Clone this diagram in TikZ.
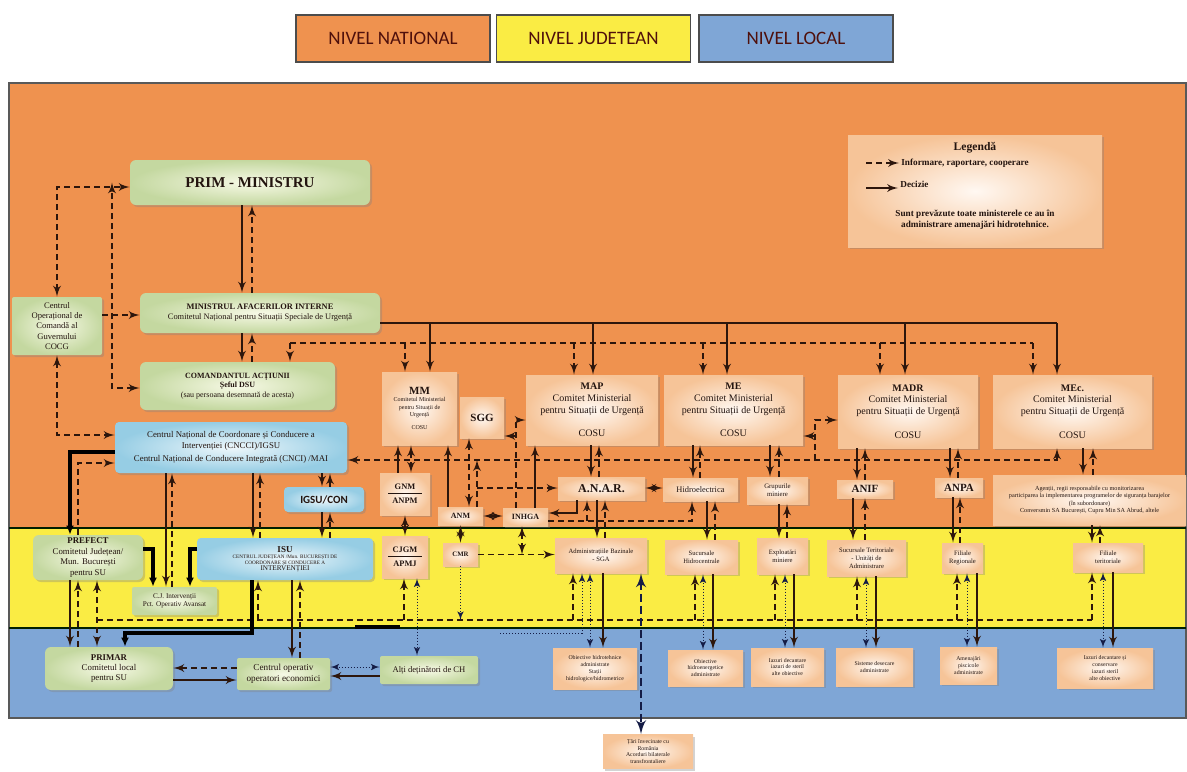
\documentclass[tikz,border=0pt]{standalone}
\usepackage{fontspec}
\setmainfont{Liberation Serif}
\newfontfamily\lgfont{Carlito}
\usetikzlibrary{shapes,arrows,arrows.meta,positioning,shadows}
\newcommand\fsz[1]{\fontsize{#1}{\fpeval{1.18*#1}}\selectfont}
\definecolor{orgband}{RGB}{239,146,79}
\definecolor{yelband}{RGB}{250,236,68}
\definecolor{bluband}{RGB}{127,166,214}
\definecolor{lnc}{RGB}{45,22,12}
\definecolor{navy}{RGB}{20,28,70}
\definecolor{txt}{RGB}{35,20,15}
\definecolor{grnout}{RGB}{196,216,160}
\definecolor{grnin}{RGB}{247,249,230}
\definecolor{pchout}{RGB}{246,196,152}
\definecolor{pchin}{RGB}{255,248,242}
\definecolor{bluout}{RGB}{150,205,228}
\definecolor{bluin}{RGB}{238,247,251}
\begin{document}
\begin{tikzpicture}[x=0.5pt, y=-0.5pt, >=latex']

            % Define block styles
            \tikzstyle{lvl} = [draw=black!70, line width=.8pt, minimum width=97pt, minimum height=23.5pt, font=\lgfont\fsz{9.5}, text=txt!80!red]
            \tikzstyle{grn} = [rounded corners=3pt, inner color=grnin, outer color=grnout, drop shadow={opacity=.35, shadow xshift=1pt, shadow yshift=-1pt}, align=center, inner sep=1pt, text=txt]
            \tikzstyle{pch} = [inner color=pchin, outer color=pchout, drop shadow={opacity=.35, shadow xshift=1pt, shadow yshift=-1pt}, align=center, inner sep=1pt, text=txt]
            \tikzstyle{blu} = [rounded corners=2pt, inner color=bluin, outer color=bluout, drop shadow={opacity=.35, shadow xshift=1pt, shadow yshift=-1pt}, align=center, inner sep=1pt, text=txt]
            \tikzstyle{dec} = [draw=lnc, line width=.9pt, ->]
            \tikzstyle{inf} = [draw=lnc, line width=.9pt, dash pattern=on 3pt off 2pt, ->]
            \tikzstyle{bus} = [draw=lnc, line width=.9pt, dash pattern=on 3pt off 2pt]
            \tikzstyle{dotl} = [draw=navy, line width=.5pt, densely dotted, ->]
            \tikzstyle{thk} = [draw=black, line width=2pt, -{Latex[length=4.5pt,width=4pt]}]

            \useasboundingbox (0,0) rectangle (1187,771);

            % Bands
            \fill[orgband] (9,83) rectangle (1186,528);
            \fill[yelband] (9,528) rectangle (1186,628);
            \fill[bluband] (9,628) rectangle (1186,718);
            \draw[black!65, line width=1pt] (9,83) rectangle (1186,718);
            \draw[black!60!green!30!black, line width=1pt] (9,528) -- (1186,528) (9,628) -- (1186,628);
            \draw[black, line width=2pt] (355,627) -- (400,627);

            % Level boxes
            \node [lvl, fill=orgband] (nnat) at (393,38.5) {NIVEL NATIONAL};
            \node [lvl, fill=yelband] (njud) at (593.5,38.5) {NIVEL JUDETEAN};
            \node [lvl, fill=bluband] (nloc) at (796,38.5) {NIVEL LOCAL};

            % Nodes - national
            \node [grn, minimum width=120pt, minimum height=22.5pt, font=\bfseries\fsz{7.5}] (pm) at (250,182.5) {PRIM - MINISTRU};
            \node [grn, minimum width=120pt, minimum height=20pt, font=\fsz{4.2}] (mai) at (260,313) {\textbf{MINISTRUL AFACERILOR INTERNE}\\Comitetul Național pentru Situații Speciale de Urgență};
            \node [grn, minimum width=97.5pt, minimum height=24pt, font=\fsz{4}] (cmd) at (237.5,386) {\textbf{COMANDANTUL ACȚIUNII}\\\textbf{Șeful DSU}\\(sau persoana desemnată de acesta)};
            \node [grn, rounded corners=1pt, minimum width=45pt, minimum height=29pt, font=\fsz{4.3}] (cocg) at (57,326) {Centrul\\Operațional de\\Comandă al\\Guvernului\\COCG};
            \node [blu, minimum width=116pt, minimum height=25.5pt, font=\fsz{4.4}] (cncci) at (231,447.5) {Centrul Național de Coordonare și Conducere a\\Intervenției (CNCCI)/IGSU\\[1.5pt]Centrul Național de Conducere Integrată (CNCI) /MAI};
            \node [blu, minimum width=40pt, minimum height=12.5pt, font=\lgfont\bfseries\fsz{5.5}] (igsu) at (324,499.5) {IGSU/CON};

            % Legend
            \node [pch, minimum width=127pt, minimum height=56pt] (leg) at (975,191) {};
            \node [font=\bfseries\fsz{5.8}, text=txt] (legt) at (975,148) {Legendă};
            \node [font=\bfseries\fsz{4.6}, anchor=west, inner sep=1pt, text=txt] (leg1) at (899,163) {Informare, raportare, cooperare};
            \node [font=\bfseries\fsz{4.6}, anchor=west, inner sep=1pt, text=txt] (leg2) at (898,184) {Decizie};
            \node [font=\bfseries\fsz{4.6}, align=center, text=txt] (legn) at (975,220) {Sunt prevăzute toate ministerele ce au în\\administrare amenajări hidrotehnice.};
            \coordinate (l1) at (866,163);
            \coordinate (l2) at (866,188);

            % Ministries
            \node [pch, minimum width=37.5pt, minimum height=36.5pt, font=\fsz{3}] (mm) at (419.5,408.5) {{\bfseries\fsz{5.5}MM}\\Comitetul Ministerial\\pentru Situații de\\Urgență\\[3pt]COSU};
            \node [pch, minimum width=22pt, minimum height=20.5pt, font=\bfseries\fsz{5.5}] (sgg) at (482,417.5) {SGG};
            \node [pch, minimum width=66pt, minimum height=35pt, font=\fsz{5}] (map) at (592,410) {\textbf{MAP}\\Comitet Ministerial\\pentru Situații de Urgență\\[6pt]COSU};
            \node [pch, minimum width=69.5pt, minimum height=35pt, font=\fsz{5}] (me) at (733.5,410) {\textbf{ME}\\Comitet Ministerial\\pentru Situații de Urgență\\[6pt]COSU};
            \node [pch, minimum width=70pt, minimum height=36.5pt, font=\fsz{5}] (madr) at (908,411.5) {\textbf{MADR}\\Comitet Ministerial\\pentru Situații de Urgență\\[6pt]COSU};
            \node [pch, minimum width=79.5pt, minimum height=36.5pt, font=\fsz{5}] (mec) at (1072.5,411.5) {\textbf{MEc.}\\Comitet Ministerial\\pentru Situații de Urgență\\[6pt]COSU};

            % Agencies
            \node [pch, minimum width=25pt, minimum height=21pt, font=\bfseries\fsz{4.2}] (gnm) at (405,494) {GNM\\[-2pt]\rule[1pt]{17pt}{.4pt}\\[-1pt]ANPM};
            \node [pch, minimum width=22.5pt, minimum height=9pt, font=\bfseries\fsz{4}] (anm) at (460.5,516) {ANM};
            \node [pch, minimum width=22.5pt, minimum height=9pt, font=\bfseries\fsz{4}] (inhga) at (525.5,517) {INHGA};
            \node [pch, minimum width=43.5pt, minimum height=11.5pt, font=\bfseries\fsz{6}] (anar) at (601.5,488.5) {A.N.A.R.};
            \node [pch, minimum width=37.5pt, minimum height=11.5pt, font=\fsz{4.2}] (hidro) at (700.5,489.5) {Hidroelectrica};
            \node [pch, minimum width=30.5pt, minimum height=13.5pt, font=\fsz{3.4}] (grup) at (777.5,490.5) {Grupurile\\miniere};
            \node [pch, minimum width=28pt, minimum height=9pt, font=\bfseries\fsz{5.5}] (anif) at (865,489) {ANIF};
            \node [pch, minimum width=24pt, minimum height=9.5pt, font=\bfseries\fsz{5.5}] (anpa) at (959,487.5) {ANPA};
            \node [pch, minimum width=96.5pt, minimum height=25pt, font=\fsz{3.1}] (agen) at (1089.5,500) {Agenții, regii responsabile cu monitorizarea\\participarea la implementarea programelor de siguranța barajelor\\(în subordonare)\\Conversmin SA București, Cupru Min SA Abrud, altele};

            % Nodes - judetean
            \node [grn, minimum width=55pt, minimum height=22.5pt, font=\fsz{4.4}] (pref) at (88,557.5) {\textbf{PREFECT}\\Comitetul Județean/\\Mun. București\\pentru SU};
            \node [blu, minimum width=88pt, minimum height=21pt, font=\fsz{2.6}] (isu) at (285,559) {{\bfseries\fsz{4.5}ISU}\\CENTRUL JUDEȚEAN /Mun. BUCUREȘTI DE\\COORDONARE ȘI CONDUCERE A\\{\fsz{3.6}INTERVENȚIEI}};
            \node [grn, rounded corners=1pt, minimum width=42.5pt, minimum height=14pt, font=\fsz{3.6}] (cji) at (174.5,601) {C.J. Intervenții\\Pct. Operativ Avansat};
            \node [pch, minimum width=23pt, minimum height=21pt, font=\bfseries\fsz{4.2}] (cjgm) at (405,557) {CJGM\\[-2pt]\rule[1pt]{17pt}{.4pt}\\[-1pt]APMJ};
            \node [pch, minimum width=17.5pt, minimum height=11.5pt, font=\bfseries\fsz{3.4}] (cmr) at (460.5,554.5) {CMR};
            \node [pch, minimum width=46pt, minimum height=17.5pt, font=\fsz{3.3}] (abas) at (601,555.5) {Administrațiile Bazinale\\- SGA};
            \node [pch, minimum width=36.5pt, minimum height=17pt, font=\fsz{3.3}] (shid) at (701.5,557) {Sucursale\\Hidrocentrale};
            \node [pch, minimum width=25.5pt, minimum height=18pt, font=\fsz{3.3}] (expl) at (782.5,556) {Exploatări\\miniere};
            \node [pch, minimum width=39.5pt, minimum height=18pt, font=\fsz{3.3}] (ster) at (866.5,558) {Sucursale Teritoriale\\- Unități de\\Administrare};
            \node [pch, minimum width=20.5pt, minimum height=15pt, font=\fsz{3.3}] (freg) at (962.5,558) {Filiale\\Regionale};
            \node [pch, minimum width=35pt, minimum height=14.5pt, font=\fsz{3.3}] (fter) at (1108,557.5) {Filiale\\teritoriale};

            % Nodes - local
            \node [grn, minimum width=64pt, minimum height=21.5pt, font=\fsz{4.4}] (primar) at (109,668.5) {\textbf{PRIMAR}\\Comitetul local\\pentru SU};
            \node [grn, rounded corners=1pt, minimum width=46.5pt, minimum height=16pt, font=\fsz{4.6}] (cop) at (283.5,674) {Centrul operativ\\operatori economici};
            \node [grn, rounded corners=1pt, minimum width=49pt, minimum height=14pt, font=\fsz{4.3}] (alti) at (429,670) {Alți deținători de CH};
            \node [pch, minimum width=42pt, minimum height=20.5pt, font=\fsz{2.9}] (ob1) at (595,668.5) {Obiective hidrotehnice\\administrate\\Stații\\hidrologice/hidrometrice};
            \node [pch, minimum width=37.5pt, minimum height=18pt, font=\fsz{2.9}] (ob2) at (705.5,668) {Obiective\\hidroenergetice\\administrate};
            \node [pch, minimum width=36.5pt, minimum height=19pt, font=\fsz{2.9}] (ob3) at (787.5,667) {Iazuri decantare\\iazuri de steril\\alte obiective};
            \node [pch, minimum width=38.5pt, minimum height=19pt, font=\fsz{2.9}] (ob4) at (874.5,667) {Sisteme desecare\\administrate};
            \node [pch, minimum width=28.5pt, minimum height=18.5pt, font=\fsz{2.9}] (ob5) at (968.5,665.5) {Amenajări\\piscicole\\administrate};
            \node [pch, minimum width=48pt, minimum height=20pt, font=\fsz{2.9}] (ob6) at (1105,668) {Iazuri decantare și\\conservare\\iazuri steril\\alte obiective};
            \node [pch, minimum width=45pt, minimum height=17pt, font=\fsz{2.9}] (tari) at (648,751.5) {Țări învecinate cu\\România\\Acorduri bilaterale\\transfrontaliere};
            \coordinate (dl) at (500,633);

            % Arrows - legend
            \draw [inf] (l1) -- (leg1.west);
            \draw [dec] (l2) -- (leg2.west |- l2);

            % Arrows - top
            \draw [inf,<->] (cocg.north) |- (pm.west |- 0,187);
            \draw [inf,<->] (cmd.west |- 0,388) -| (112,0 |- pm.west);
            \draw [dec] (242,0 |- pm.south) -- (242,0 |- mai.north);
            \draw [inf] (252,0 |- mai.north) -- (252,0 |- pm.south);
            \draw [dec] (242,0 |- mai.south) -- (242,0 |- cmd.north);
            \draw [inf] (252,0 |- cmd.north) -- (252,0 |- mai.south);
            \draw [inf] (cocg.east |- 0,315) -- (mai.west |- 0,315);
            \draw [inf,<->] (cocg.south) |- (cncci.west |- 0,435);

            % Buses to ministries
            \draw [draw=lnc, line width=.9pt] (mai.east |- 0,323) -- (1057,323);
            \foreach \x/\n in {430/mm,593/map,727/me,905/madr,1057/mec}
                \draw [dec] (\x,323) -- (\x,0 |- \n.north);
            \draw [bus] (290,343) -- (1033,343);
            \draw [inf] (290,343) -- (290,0 |- cmd.north);
            \foreach \x/\n in {405/mm,574/map,703/me,880/madr,1033/mec}
                \draw [inf] (\x,343) -- (\x,0 |- \n.north);

            % Ministries - agencies - judetean - local
            \foreach \m/\a/\xs/\xd in {map/anar/591/599,me/hidro/693/700,me/grup/770/779,madr/anif/857/865,madr/anpa/950/958,mec/agen/1083/1093} {
                \draw [dec] (\xs,0 |- \m.south) -- (\xs,0 |- \a.north);
                \draw [inf] (\xd,0 |- \a.north) -- (\xd,0 |- \m.south);
            }
            \foreach \a/\j/\xs/\xd in {anar/abas/597/605,hidro/shid/707/715,grup/expl/779/787,anif/ster/853/865,anpa/freg/953/960,agen/fter/1092/1100} {
                \draw [dec] (\xs,0 |- \a.south) -- (\xs,0 |- \j.north);
                \draw [inf] (\xd,0 |- \j.north) -- (\xd,0 |- \a.south);
            }
            \draw [bus] (97,620) -- (1092,620);
            \foreach \j/\b/\xa/\xb/\xc in {abas/ob1/573/590/603,shid/ob2/695/703/713,expl/ob3/775/785/794,ster/ob4/857/866/876,freg/ob5/957/967/977,fter/ob6/1092/1103/1113} {
                \draw [inf] (\xa,620) -- (\xa,0 |- \j.south);
                \draw [dotl,<->] (\xb,0 |- \j.south) -- (\xb,0 |- \b.north);
                \draw [dec] (\xc,0 |- \j.south) -- (\xc,0 |- \b.north);
            }
            \draw [draw=navy, line width=1.4pt, dash pattern=on 4pt off 2pt, <->] (641,0 |- abas.south) -- (641,0 |- tari.north);
            \draw [dotl] (dl) -| (582,0 |- abas.south);

            % CNCCI bus and middle links
            \draw [inf,<->] (cncci.east |- 0,460) -| (1057,0 |- mec.south);
            \draw [inf] (815,460) |- (madr.west |- 0,420);
            \draw [inf] (815,436) -- (me.east |- 0,436);
            \draw [inf] (516,0 |- inhga.north) |- (map.west |- 0,420);
            \draw [inf] (516,436) -- (sgg.east |- 0,436);
            \draw [dec] (535,0 |- inhga.north) -- (535,0 |- map.south);
            \draw [inf,<->] (469,0 |- anm.north) -- (469,0 |- sgg.south);
            \draw [dec] (448,0 |- anm.north) -- (448,0 |- mm.south);
            \draw [inf] (477,0 |- anm.north) -- (477,460);
            \draw [inf] (477,488) -- (anar.west |- 0,488);
            \draw [inf,<->] (anm.east) -- (inhga.west |- anm.east);
            \draw [dec] (577,0 |- anar.south) |- (inhga.east |- 0,513);
            \draw [inf] (inhga.east |- 0,521) -| (692,0 |- hidro.south);
            \draw [inf] (587,521) -- (587,0 |- anar.south);
            \draw [inf,<->] (anar.east |- 0,488) -- (hidro.west |- 0,488);
            \draw [dec] (398,0 |- gnm.north) -- (398,0 |- mm.south);
            \draw [inf,<->] (411,0 |- mm.south) -- (411,0 |- gnm.north);
            \draw [inf,<->] (gnm.south) -- (cjgm.north);
            \draw [inf,<->] (anm.south) -- (cmr.north);
            \draw [inf] (cmr.east) -- (abas.west |- cmr.east);
            \draw [inf,<->] (522,0 |- inhga.south) -- (522,0 |- cmr.east);
            \draw [dotl] (cmr.south) -- (cmr.south |- 0,620);
            \draw [inf] (404,620) -- (404,0 |- cjgm.south);
            \draw [dotl,<->] (417,0 |- cjgm.south) -- (417,0 |- alti.north);

            % Left side
            \draw [thk] (cncci.west |- 0,452) -| (70,0 |- pref.north);
            \draw [inf] (78,0 |- pref.north) |- (cncci.west |- 0,463);
            \draw [thk] (pref.east |- 0,549) -| (153,0 |- cji.north);
            \draw [thk] (isu.west |- 0,549) -| (190,0 |- cji.north);
            \draw [dec] (166,0 |- cncci.south) -- (166,0 |- cji.north);
            \draw [inf] (172,0 |- cji.north) -- (172,0 |- cncci.south);
            \draw [dec] (253,0 |- cncci.south) -- (253,0 |- isu.north);
            \draw [inf] (260,0 |- isu.north) -- (260,0 |- cncci.south);
            \draw [dec] (322,0 |- cncci.south) -- (322,0 |- igsu.north);
            \draw [inf] (330,0 |- igsu.north) -- (330,0 |- cncci.south);
            \draw [dec] (322,0 |- igsu.south) -- (322,0 |- isu.north);
            \draw [inf] (330,0 |- isu.north) -- (330,0 |- igsu.south);
            \draw [dec] (70,0 |- pref.south) -- (70,0 |- primar.north);
            \draw [inf] (78,0 |- primar.north) -- (78,0 |- pref.south);
            \draw [inf,<->] (97,0 |- pref.south) -- (97,0 |- primar.north);
            \draw [thk] (252,0 |- isu.south) |- (125,633) -- (125,0 |- primar.north);
            \draw [inf] (258,620) -- (258,0 |- isu.south);
            \draw [dec] (292,0 |- isu.south) -- (292,0 |- cop.north);
            \draw [inf] (300,0 |- cop.north) -- (300,0 |- isu.south);
            \draw [inf] (cop.west |- 0,668) -- (primar.east |- 0,668);
            \draw [dec] (primar.east |- 0,680) -- (cop.west |- 0,680);
            \draw [dotl,<->] (cop.east |- 0,667) -- (alti.west |- 0,667);
            \draw [dec] (alti.west |- 0,676) -- (cop.east |- 0,676);

\end{tikzpicture}
\end{document}
